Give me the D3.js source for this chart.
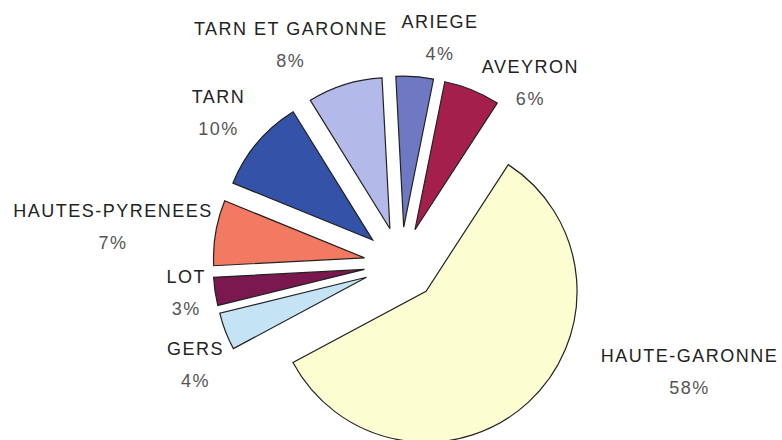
<!DOCTYPE html>
<html>
<head>
<meta charset="utf-8">
<script src="https://cdn.jsdelivr.net/npm/d3@7"></script>
<style>
  html, body { margin: 0; padding: 0; background: #fff; }
  svg { display: block; }
  .name { font-family: "Liberation Sans", Arial, sans-serif; font-size: 18px; letter-spacing: 1.5px; fill: #222; }
  .pct { font-family: "Liberation Sans", Arial, sans-serif; font-size: 18px; letter-spacing: 1.5px; fill: #555; }
</style>
</head>
<body>
<svg id="chart"></svg>
<script>
//// DATA

// departments, clockwise starting just left of 12 o'clock
const departments = ["ARIEGE", "AVEYRON", "HAUTE-GARONNE", "GERS", "LOT", "HAUTES-PYRENEES", "TARN", "TARN ET GARONNE"];
const shares = [4, 6, 58, 4, 3, 7, 10, 8];
const shareLabels = ["4%", "6%", "58%", "4%", "3%", "7%", "10%", "8%"];

//// SETTINGS

const width = 782;
const height = 440;
const center = [401, 264];
const radius = 151;
const explode = 37;
const labelGap = 30;
const startDeg = -3;

const colors = ["#6f78c2", "#a51f4c", "#fdfdd2", "#c4e4f6", "#7b1850", "#f27a62", "#3352a8", "#b3b9e8"];
// excel-ish label nudges from the default outside position
const labelNudge = [[23, -11], [47, 19], [141, -54], [-2, 21], [1, -5], [-73, -3], [-16, -12], [-45, -13]];

const svg = d3.select("#chart").attr("width", width).attr("height", height);

const rad = d => d * Math.PI / 180;

const pie = d3.pie()
    .sort(null)
    .value(d => d.value)
    .startAngle(rad(startDeg))
    .endAngle(rad(startDeg + 360));

const arc = d3.arc().innerRadius(0).outerRadius(radius);

const rows = departments.map((name, i) => ({ name: name, value: shares[i], label: shareLabels[i], i: i }));
const arcs = pie(rows);

function offset(d, dist) {
    const mid = (d.startAngle + d.endAngle) / 2;
    return [Math.sin(mid) * dist, -Math.cos(mid) * dist];
}

const pieGroup = svg.append("g").attr("transform", `translate(${center[0]},${center[1]})`);

pieGroup.selectAll(".slice")
    .data(arcs)
    .enter()
    .append("path")
    .attr("class", "slice")
    .attr("transform", d => {
        const o = offset(d, explode);
        return `translate(${o[0]},${o[1]})`;
    })
    .attr("d", arc)
    .style("fill", d => colors[d.data.i])
    .style("stroke", "#222")
    .style("stroke-width", "1.2px")
    .style("stroke-linejoin", "miter");

// labels
const labels = pieGroup.selectAll(".label")
    .data(arcs)
    .enter()
    .append("g")
    .attr("class", "label")
    .attr("transform", d => {
        const o = offset(d, explode + radius + labelGap);
        const n = labelNudge[d.data.i];
        return `translate(${o[0] + n[0]},${o[1] + n[1]})`;
    });

labels.append("text")
    .attr("class", "name")
    .attr("text-anchor", "middle")
    .attr("y", -8)
    .text(d => d.data.name);

labels.append("text")
    .attr("class", "pct")
    .attr("text-anchor", "middle")
    .attr("y", 24)
    .text(d => d.data.label);
</script>
</body>
</html>
